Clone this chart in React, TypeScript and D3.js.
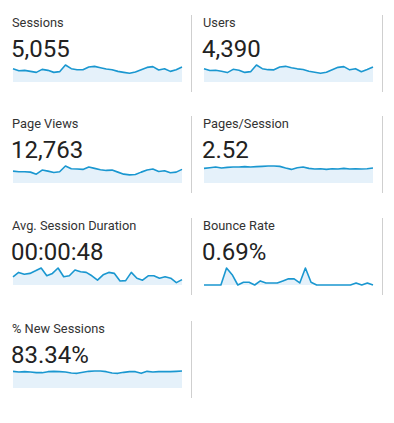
import * as d3 from "d3";

// daily values
const sessions = [184, 156, 161, 147, 133, 175, 161, 133, 143, 235, 184, 170, 170, 207, 216, 198, 179, 170, 147, 133, 120, 138, 170, 202, 212, 166, 184, 147, 170, 207];
const users = [160, 138, 140, 128, 113, 152, 142, 115, 124, 204, 160, 148, 146, 180, 188, 172, 158, 150, 128, 116, 104, 118, 148, 176, 184, 146, 160, 124, 150, 180];
const pageViews = [420, 396, 396, 384, 312, 456, 420, 372, 396, 600, 504, 492, 480, 564, 516, 468, 444, 456, 384, 312, 288, 300, 384, 456, 492, 408, 432, 360, 384, 480];
const pagesPerSession = [2.41, 2.52, 2.63, 2.46, 2.58, 2.63, 2.63, 2.69, 2.63, 2.69, 2.74, 2.8, 2.8, 2.74, 2.46, 2.24, 2.52, 2.63, 2.41, 2.3, 2.35, 2.24, 2.35, 2.3, 2.41, 2.3, 2.35, 2.3, 2.35, 2.46];
const avgDuration = [41, 63, 54, 58, 71, 85, 46, 58, 85, 41, 46, 75, 66, 63, 46, 24, 51, 63, 58, 20, 22, 63, 34, 24, 46, 46, 34, 41, 34, 12, 27];
const bounceRate = [0, 0, 0, 0, 4.3, 2.6, 0, 0.69, 0.69, 0, 1.03, 0.52, 0.52, 0.52, 1.03, 1.55, 1.55, 0.52, 4.3, 0.69, 0, 0, 0, 0, 0, 0, 0, 0.52, 0, 0.52, 0];
const newSessions = [85, 81.6, 83.3, 81.6, 78.2, 78.2, 83.3, 85, 83.3, 81.6, 76.5, 74.8, 79.9, 85, 86.7, 86.7, 83.3, 76.5, 74.8, 79.9, 83.3, 83.3, 74.8, 85, 81.6, 83.3, 83.3, 83.3, 85, 86.7];

const labels = ["Sessions", "Users", "Page Views", "Pages/Session", "Avg. Session Duration", "Bounce Rate", "% New Sessions"];
const totals = ["5,055", "4,390", "12,763", "2.52", "00:00:48", "0.69%", "83.34%"];
const series = [sessions, users, pageViews, pagesPerSession, avgDuration, bounceRate, newSessions];

const width = 394;
const height = 423;
const colX = [12, 203];
const rowY = [0, 101, 203, 306];
const sparkW = 169;
const font = "Roboto, 'Noto Sans', sans-serif";

function Metric({ i }: { i: number }) {
    const data = series[i];
    const left = colX[i % 2];
    const top = rowY[Math.floor(i / 2)];
    const x = d3.scaleLinear([0, data.length - 1], [left + 1, left + 1 + sparkW]);
    const y = d3.scaleLinear([0, d3.max(data) as number], [top + 82, top + 65]);
    const area = d3.area<number>((d, j) => x(j), top + 82, y);
    const line = d3.line<number>((d, j) => x(j), y);
    const divX = left + 179.5;
    return (
        <g>
            <text x={left} y={top + 27} fontSize={12.8} fill="#333">{labels[i]}</text>
            <text x={left - 1} y={top + 57} fontSize={24} fill="#222">{totals[i]}</text>
            <path d={area(data) ?? ""} fill="#e5f1fa" />
            <path d={line(data) ?? ""} fill="none" stroke="#1a97d0" strokeWidth={1.6} strokeLinejoin="round" />
            <line x1={divX} x2={divX} y1={top + 15} y2={top + 92} stroke="#cfcfcf" />
        </g>
    );
}

export default function App() {
    return (
        <svg width={width} height={height} style={{ position: "absolute", left: 0, top: 0, fontFamily: font, background: "#fff" }}>
            {labels.map((l, i) => <Metric key={l} i={i} />)}
        </svg>
    );
}
